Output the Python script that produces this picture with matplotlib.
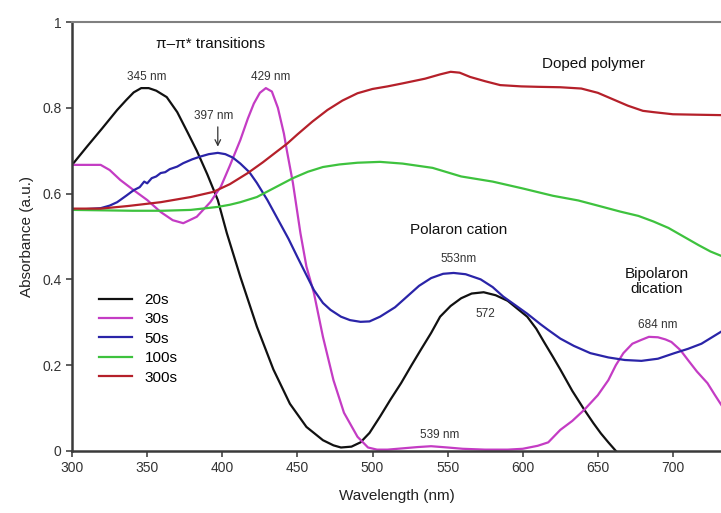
import matplotlib
matplotlib.use("Agg")
import matplotlib.pyplot as plt

plt.rcParams['font.family'] = ['Liberation Sans', 'DejaVu Sans']

# 20s
wl_20 = [300, 310, 320, 330, 336, 341, 346, 351, 356, 363, 370, 377, 383, 390, 397, 403,
         412, 423, 434, 445, 456, 467, 474, 479, 486, 492, 498, 505, 512, 519, 526, 532,
         539, 545, 552, 559, 566, 574, 582, 590, 597, 603, 609, 614, 620, 625, 633, 641,
         647, 652, 657, 662]
abs_20 = [0.667, 0.71, 0.752, 0.795, 0.818, 0.836, 0.846, 0.846, 0.84, 0.825, 0.79, 0.742,
          0.70, 0.645, 0.585, 0.508, 0.406, 0.29, 0.19, 0.11, 0.056, 0.025, 0.013, 0.008,
          0.01, 0.02, 0.042, 0.08, 0.12, 0.158, 0.2, 0.235, 0.275, 0.313, 0.338, 0.356,
          0.367, 0.37, 0.363, 0.35, 0.33, 0.313, 0.285, 0.255, 0.22, 0.19, 0.14, 0.096,
          0.065, 0.041, 0.02, 0.0]

# 30s
wl_30 = [300, 310, 319, 325, 332, 341, 350, 359, 367, 374, 383, 392, 399, 405, 412, 417,
         421, 425, 429, 433, 437, 441, 443, 447, 452, 456, 461, 467, 474, 481, 490, 497,
         503, 510, 520, 530, 539, 550, 560, 575, 590, 600, 610, 617, 625, 633, 641,
         650, 657, 662, 667, 673, 679, 684, 690, 695, 699, 705, 710, 716, 723, 728, 733]
abs_30 = [0.667, 0.667, 0.667, 0.655, 0.632, 0.608, 0.585, 0.557, 0.538, 0.531, 0.546, 0.58,
          0.616, 0.665, 0.725, 0.775, 0.81, 0.835, 0.846, 0.838, 0.80, 0.74, 0.70, 0.625,
          0.508, 0.43, 0.368, 0.266, 0.165, 0.089, 0.033, 0.008, 0.003, 0.003, 0.006,
          0.009, 0.011, 0.008, 0.005, 0.003, 0.003, 0.005, 0.012, 0.02, 0.049, 0.07, 0.096,
          0.13, 0.165, 0.2, 0.228, 0.25, 0.259, 0.266, 0.265, 0.26, 0.254, 0.235, 0.212,
          0.185, 0.158, 0.13, 0.103]

# 50s
wl_50 = [300, 310, 319, 325, 330, 336, 341, 345, 348, 350, 353, 356, 359, 362, 365, 370,
         374, 380, 385, 391, 397, 402, 407, 412, 418, 423, 430, 437, 444, 450, 456, 461,
         467, 472, 479, 485, 492, 498, 505, 515, 523, 531, 539, 547, 554,
         562, 572, 580, 587, 595, 603, 612, 617, 625, 634, 645, 657, 668, 679, 690, 701,
         710, 719, 726, 733]
abs_50 = [0.562, 0.564, 0.566, 0.572, 0.58, 0.595, 0.608, 0.615, 0.628, 0.624, 0.636, 0.64,
          0.648, 0.65, 0.657, 0.663, 0.671, 0.68, 0.686, 0.692, 0.695, 0.692, 0.684, 0.67,
          0.65, 0.625, 0.585, 0.54, 0.495, 0.452, 0.41, 0.375, 0.345, 0.329, 0.313, 0.305,
          0.301, 0.302, 0.313, 0.335, 0.36, 0.385, 0.403, 0.413, 0.415, 0.412,
          0.4, 0.382, 0.36, 0.34, 0.32, 0.295, 0.282, 0.262, 0.245, 0.228, 0.218, 0.212,
          0.21, 0.215, 0.228, 0.238, 0.25, 0.265, 0.28]

# 100s
wl_100 = [300, 320, 340, 360, 379, 397, 405, 412, 423, 435, 447, 457, 467, 478, 490, 505,
          520, 540, 559, 580, 600, 620, 637, 650, 665, 677, 687, 697, 707, 717, 725, 732]
abs_100 = [0.562, 0.561, 0.56, 0.56, 0.562, 0.569, 0.574, 0.58, 0.592, 0.614, 0.636, 0.651,
           0.662, 0.668, 0.672, 0.674, 0.67, 0.66, 0.64, 0.628, 0.612, 0.595, 0.584, 0.572,
           0.558, 0.548, 0.535, 0.52, 0.5, 0.48, 0.465, 0.455]

# 300s
wl_300 = [300, 319, 337, 359, 379, 394, 405, 417, 427, 437, 443, 450, 460, 470, 480, 490,
          500, 510, 520, 535, 545, 552, 558, 565, 575, 585, 599, 610, 625, 639, 650, 660,
          670, 680, 687, 700, 715, 732]
abs_300 = [0.565, 0.565, 0.571, 0.58, 0.592, 0.604, 0.622, 0.648, 0.673, 0.70, 0.716, 0.738,
           0.768, 0.795, 0.817, 0.834, 0.844, 0.85, 0.857, 0.868, 0.878, 0.884, 0.882, 0.872,
           0.862, 0.853, 0.85, 0.849, 0.848, 0.845, 0.835, 0.82, 0.805, 0.793, 0.79, 0.785,
           0.784, 0.783]

series = [
    ('20s', wl_20, abs_20, '#111111'),
    ('30s', wl_30, abs_30, '#c43cc4'),
    ('50s', wl_50, abs_50, '#2a24a8'),
    ('100s', wl_100, abs_100, '#3ec23e'),
    ('300s', wl_300, abs_300, '#b5202a'),
]

fig = plt.figure(figsize=(7.21, 5.13), dpi=100)
ax = fig.add_axes([0.1, 0.121, 0.9, 0.836])

for name, x, y, c in series:
    ax.plot(x, y, color=c, lw=1.6, label=name)

ax.set_xlim(300, 732)
ax.set_ylim(0, 1)
ax.set_xticks([300, 350, 400, 450, 500, 550, 600, 650, 700])
ax.set_yticks([0, 0.2, 0.4, 0.6, 0.8, 1])
ax.set_yticklabels(['0', '0.2', '0.4', '0.6', '0.8', '1'])
ax.tick_params(direction='out', length=4, width=1.2, colors='#444444',
               labelsize=10, labelcolor='#333333')
ax.spines['right'].set_visible(False)
ax.spines['top'].set_color('#808080')
ax.spines['top'].set_linewidth(1.5)
for s in ['left', 'bottom']:
    ax.spines[s].set_color('#3a3a3a')
    ax.spines[s].set_linewidth(1.8)

ax.set_xlabel('Wavelength (nm)', fontsize=11, color='#222222', labelpad=10)
ax.set_ylabel('Absorbance (a.u.)', fontsize=11, color='#222222', labelpad=6)

ax.legend(loc='upper left', bbox_to_anchor=(0.02, 0.40), frameon=False,
          fontsize=11, handlelength=2.2, labelspacing=0.35, handletextpad=0.8)

small = dict(fontsize=8.5, color='#333333', ha='center', va='center')
ax.text(392, 0.949, 'π–π* transitions', fontsize=11, color='#111111',
        ha='center', va='center')
ax.text(350, 0.872, '345 nm', **small)
ax.text(432, 0.872, '429 nm', **small)
ax.text(394, 0.782, '397 nm', **small)
ax.annotate('', xy=(397, 0.703), xytext=(397, 0.762),
            arrowprops=dict(arrowstyle='->', color='#333333', lw=0.9))
ax.text(647, 0.902, 'Doped polymer', fontsize=11, color='#111111', ha='center', va='center')
ax.text(557, 0.515, 'Polaron cation', fontsize=11, color='#111111', ha='center', va='center')
ax.text(557, 0.447, '553nm', **small)
ax.text(575, 0.32, '572', **small)
ax.text(689, 0.395, 'Bipolaron\ndication', fontsize=11, color='#111111',
        ha='center', va='center', linespacing=1.1)
ax.text(690, 0.294, '684 nm', **small)
ax.text(545, 0.037, '539 nm', **small)

fig.savefig('out.png', dpi=100)
